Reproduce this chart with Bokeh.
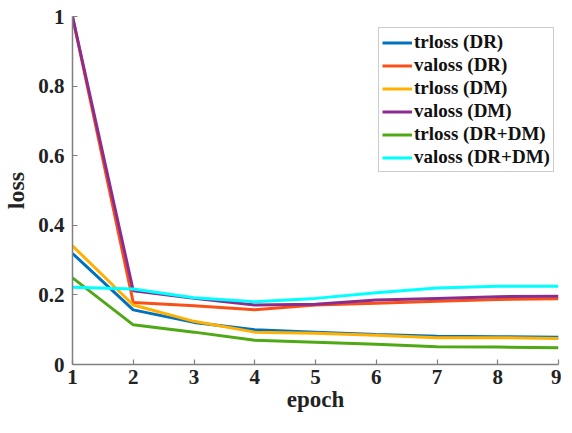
from bokeh.plotting import figure
from bokeh.models import Legend, LegendItem, FixedTicker, CustomJSTickFormatter, Range1d
from bokeh.embed import file_html
from bokeh.resources import INLINE

epochs = [1, 2, 3, 4, 5, 6, 7, 8, 9]
trloss_dr = [0.319, 0.157, 0.121, 0.100, 0.093, 0.086, 0.081, 0.080, 0.078]
valoss_dr = [1.000, 0.178, 0.169, 0.157, 0.171, 0.176, 0.182, 0.187, 0.189]
trloss_dm = [0.341, 0.171, 0.124, 0.093, 0.090, 0.084, 0.077, 0.077, 0.075]
valoss_dm = [1.000, 0.212, 0.190, 0.171, 0.173, 0.185, 0.190, 0.195, 0.196]
trloss_drdm = [0.249, 0.114, 0.093, 0.070, 0.064, 0.058, 0.051, 0.050, 0.048]
valoss_drdm = [0.222, 0.217, 0.192, 0.180, 0.190, 0.206, 0.220, 0.225, 0.225]

series_names = ["trloss (DR)", "valoss (DR)", "trloss (DM)", "valoss (DM)",
                "trloss (DR+DM)", "valoss (DR+DM)"]
series_values = [trloss_dr, valoss_dr, trloss_dm, valoss_dm, trloss_drdm, valoss_drdm]
colors = ["#0072BD", "#F9501A", "#FFB000", "#8B2D8F", "#4FA915", "#00FFFF"]

y_ticks = [0, 0.2, 0.4, 0.6, 0.8, 1.0]

FONT = "Liberation Serif"

p = figure(frame_width=486, frame_height=348, output_backend="svg", toolbar_location=None,
           x_range=Range1d(1, 9), y_range=Range1d(0, 1),
           min_border_left=67, min_border_right=3, min_border_top=16, min_border_bottom=53)
p.outline_line_color = None
p.xgrid.visible = False
p.ygrid.visible = False

items = []
for name, vals, c in zip(series_names, series_values, colors):
    r = p.line(epochs, vals, line_color=c, line_width=3)
    items.append(LegendItem(label=name, renderers=[r]))

for ax in (p.xaxis[0], p.yaxis[0]):
    ax.axis_line_color = "#808080"
    ax.axis_line_width = 1.5
    ax.major_tick_line_color = "#808080"
    ax.major_tick_line_width = 1.2
    ax.major_tick_in = 5
    ax.major_tick_out = 0
    ax.minor_tick_line_color = None
    ax.major_label_text_font = FONT
    ax.major_label_text_font_style = "bold"
    ax.major_label_text_font_size = "21px"
    ax.major_label_text_color = "#222222"
    ax.axis_label_text_font = FONT
    ax.axis_label_text_font_style = "bold"
    ax.axis_label_text_color = "#222222"

p.xaxis.axis_label_text_font_size = "23px"
p.yaxis.axis_label_text_font_size = "24px"
p.xaxis.ticker = FixedTicker(ticks=epochs)
p.yaxis.ticker = FixedTicker(ticks=y_ticks)
p.yaxis.formatter = CustomJSTickFormatter(code="return String(Math.round(tick*10)/10);")
p.xaxis.axis_label = "epoch"
p.yaxis.axis_label = "loss"
p.xaxis.major_label_standoff = 5
p.xaxis.axis_label_standoff = 0
p.yaxis.major_label_standoff = 8
p.yaxis.axis_label_standoff = 6

legend = Legend(items=items, location=(306, 192))
legend.label_text_font = FONT
legend.label_text_font_style = "bold"
legend.label_text_font_size = "19px"
legend.label_text_color = "#111111"
legend.glyph_width = 30
legend.glyph_height = 19
legend.label_standoff = 2
legend.label_height = 19
legend.spacing = 1
legend.padding = 3
legend.margin = 0
legend.border_line_color = "#999999"
legend.border_line_width = 1
legend.background_fill_alpha = 1
p.add_layout(legend, "center")

open("out.html", "w").write(file_html(p, INLINE))
